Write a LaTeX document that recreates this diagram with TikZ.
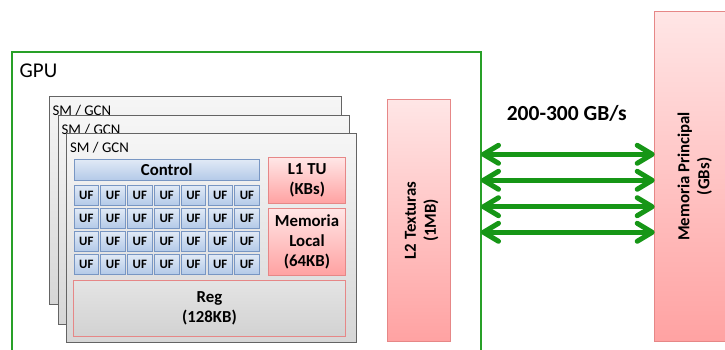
\documentclass[tikz,border=0pt]{standalone}
\usepackage{fontspec}
\setmainfont{Carlito}
\usetikzlibrary{arrows.meta}
\definecolor{gpugreen}{RGB}{40,160,40}
\definecolor{arrowgreen}{RGB}{22,150,22}
\definecolor{smborder}{RGB}{100,100,100}
\definecolor{smtop}{RGB}{246,246,246}
\definecolor{smbot}{RGB}{214,214,214}
\definecolor{pinkborder}{RGB}{230,135,135}
\definecolor{pinktop}{RGB}{255,230,230}
\definecolor{pinkbot}{RGB}{255,162,162}
\definecolor{ufborder}{RGB}{120,150,195}
\definecolor{uftop}{RGB}{225,234,246}
\definecolor{ufbot}{RGB}{180,202,232}
\definecolor{regtop}{RGB}{228,228,228}
\definecolor{regbot}{RGB}{210,210,210}
\begin{document}
\begin{tikzpicture}[x=1pt,y=-1pt,
  box/.style={draw, rectangle, inner sep=0pt, outer sep=0pt, anchor=north west, align=center, text=black},
  smbox/.style={box, draw=smborder, line width=0.9pt, top color=smtop, bottom color=smbot},
  smlabel/.style={anchor=base west, inner sep=0pt, font=\fontsize{14.8}{17}\selectfont},
  pinkbox/.style={box, draw=pinkborder, line width=0.9pt, top color=pinktop, bottom color=pinkbot, font=\bfseries\fontsize{16.8}{20}\selectfont},
  ufbox/.style={box, draw=ufborder, line width=0.8pt, top color=uftop, bottom color=ufbot, minimum width=24.6, minimum height=20, font=\bfseries\fontsize{12.8}{14}\selectfont},
  bigarrow/.style={draw=arrowgreen, line width=5pt, {Straight Barb[length=15pt, width=18pt, line cap=round, line join=round]}-{Straight Barb[length=15pt, width=18pt, line cap=round, line join=round]}},
  rotlabel/.style={rotate=90, align=center, inner sep=0pt, font=\bfseries\fontsize{16.8}{20}\selectfont}
]
\useasboundingbox (0,0) rectangle (725,349);
\clip (0,0) rectangle (725,349);

% GPU frame
\node[draw=gpugreen, line width=1.5pt, rectangle, inner sep=0pt, outer sep=0pt, anchor=north west, minimum width=469, minimum height=320] (gpu) at (12,52) {};
\node[anchor=base west, inner sep=0pt, font=\fontsize{21}{24}\selectfont] (gpulbl) at (19.5,77.3) {GPU};

% SM stacks
\node[smbox, minimum width=292, minimum height=208] (sm1) at (49,96.7) {};
\node[smlabel] (sm1lbl) at (52.3,115.4) {SM / GCN};
\node[smbox, minimum width=291, minimum height=208.7] (sm2) at (58.3,115.3) {};
\node[smlabel] (sm2lbl) at (61.5,134) {SM / GCN};
\node[smbox, minimum width=290, minimum height=209] (sm3) at (66.7,133.3) {};
\node[smlabel] (sm3lbl) at (70,152) {SM / GCN};

% Control
\node[box, draw=ufborder, line width=0.8pt, top color=uftop, bottom color=ufbot, minimum width=185.3, minimum height=21.3, font=\bfseries\fontsize{16.8}{20}\selectfont] (ctrl) at (74,159) {Control};

% UF grid
\foreach \r [count=\ri] in {185,208,231,254}{
  \foreach \c in {0,...,6}{
    \node[ufbox] (uf\ri\c) at ({74+26.78*\c},\r) {UF};
  }
}

% L1 TU and local memory
\node[pinkbox, minimum width=77, minimum height=45.6] (l1) at (268.7,157.7) {L1 TU\\(KBs)};
\node[pinkbox, minimum width=77.4, minimum height=66.7] (lmem) at (268.3,208.3) {Memoria\\Local\\(64KB)};

% Registers
\node[box, draw=pinkborder, line width=0.9pt, top color=regtop, bottom color=regbot, minimum width=272.4, minimum height=55.3, font=\bfseries\fontsize{16.8}{20}\selectfont] (reg) at (73.3,280.7) {Reg\\(128KB)};

% L2
\node[pinkbox, minimum width=62.7, minimum height=242.7] (l2) at (387.3,99) {};
\node[rotlabel] (l2lbl) at ([xshift=3pt]l2.center) {L2 Texturas\\(1MB)};

% Main memory
\node[pinkbox, minimum width=80, minimum height=330.7] (mem) at (654.7,11) {};
\node[rotlabel] (memlbl) at (mem.center) {Memoria Principal\\(GBs)};

% Bandwidth label
\node[font=\bfseries\fontsize{21.5}{24}\selectfont, inner sep=0pt] (bw) at (566.7,113) {200-300 GB/s};

% Arrows
\foreach \y [count=\i] in {154.3,180.3,206.7,232.3}{
  \coordinate (a\i) at (0,\y);
  \draw[bigarrow] (gpu.east |- a\i) -- (mem.west |- a\i);
}
\end{tikzpicture}
\end{document}
